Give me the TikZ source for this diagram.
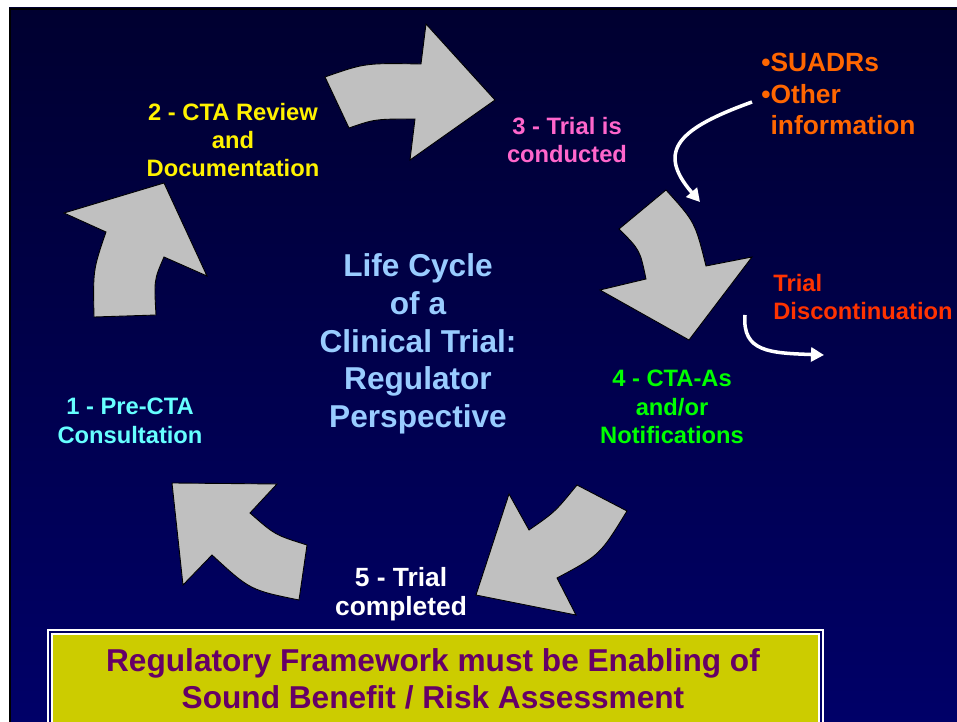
\documentclass[tikz,border=0pt]{standalone}
\usepackage{fontspec}
\setmainfont{Liberation Sans}
\usetikzlibrary{arrows.meta, positioning}
\definecolor{bgtop}{RGB}{0,0,48}
\definecolor{bgbot}{RGB}{0,0,104}
\definecolor{blockgray}{RGB}{192,192,192}
\definecolor{stepcyan}{RGB}{102,255,255}
\definecolor{steppink}{RGB}{255,102,204}
\definecolor{stepgreen}{RGB}{0,255,0}
\definecolor{titleblue}{RGB}{153,204,255}
\definecolor{infoorange}{RGB}{255,102,0}
\definecolor{stopred}{RGB}{255,51,0}
\definecolor{boxyellow}{RGB}{204,204,0}
\definecolor{boxpurple}{RGB}{102,0,102}

\begin{document}
\begin{tikzpicture}[
  x=0.02cm, y=-0.02cm,
  every node/.style={align=center, inner sep=0pt},
  steptext/.style={font=\fontsize{13.5}{16.2}\selectfont\bfseries},
  bigtext/.style={font=\fontsize{18}{21.5}\selectfont\bfseries},
  blockarrow/.style={fill=blockgray, draw=black, line width=0.5pt, line join=miter},
  feed/.style={white, line width=2pt, -{Triangle[length=2.6mm, width=2.8mm]}},
]
% page and background
\useasboundingbox (0,0) rectangle (957,722);
\fill[white] (0,0) rectangle (957,722);
\shade[top color=bgtop, bottom color=bgbot] (9,8) rectangle (957,722);
\draw[black, line width=1pt] (10,723) -- (10,9) -- (958,9);

% block arrows of the cycle
\draw[blockarrow] (325,77) .. controls (365,63) .. (421,64) -- (426,24) -- (495,100)
  -- (410,160) -- (415,119) .. controls (375,119) .. (349,128) -- cycle;
\draw[blockarrow] (666,190) .. controls (695,222) .. (706,266) -- (752,257) -- (689,340)
  -- (600,290) -- (646,279) .. controls (640,250) .. (619,229) -- cycle;
\draw[blockarrow] (577,485) -- (627,511) .. controls (600,555) .. (557,578) -- (576,615)
  -- (476,595) -- (509,494) -- (529,530) .. controls (555,512) .. (577,485) -- cycle;
\draw[blockarrow] (172,483) -- (277,484) -- (250,513) .. controls (275,535) .. (307,545)
  -- (299,600) .. controls (250,590) .. (212,555) -- (183,585) -- cycle;
\draw[blockarrow] (94,317) -- (156,315) .. controls (154,280) .. (164,257) -- (207,276)
  -- (164,183) -- (64,213) -- (106,232) .. controls (93,270) .. (94,317) -- cycle;

% steps
\node[steptext, text=stepcyan] (pre) at (130,421) {1 - Pre-CTA\\Consultation};
\node[steptext, text=yellow] (review) at (233,140) {2 - CTA Review\\and\\Documentation};
\node[steptext, text=steppink] (conduct) at (567,140) {3 - Trial is\\conducted};
\node[steptext, text=stepgreen] (amend) at (672,407) {4 - CTA-As\\and/or\\Notifications};
\node[steptext, font=\fontsize{15}{16.4}\selectfont\bfseries, text=white] (done) at (401,594) {5 - Trial\\completed};
\node[bigtext, text=titleblue] (title) at (418,344) {Life Cycle\\of a\\Clinical Trial:\\Regulator\\Perspective};

% side inputs
\node[font=\fontsize{15}{18}\selectfont\bfseries, text=infoorange, align=left, anchor=west] (info) at (761,94)
  {\textbullet SUADRs\\\textbullet Other\\\phantom{\textbullet}information};
\node[steptext, text=stopred, align=left, anchor=west] (stop) at (773,297) {Trial\\Discontinuation};
\coordinate (infotip) at (700,202);
\coordinate (stoptip) at (824,355);
\draw[feed] ([shift={(-9,8)}]info.west) .. controls (680,128) and (655,150) .. (infotip);
\draw[feed] ([shift={(-28,18)}]stop.west) .. controls (742,352) and (770,353) .. (stoptip);

% bottom statement
\draw[white, line width=0.9pt] (48,630) rectangle (823,760);
\draw[white, fill=boxyellow, line width=0.9pt] (52,634) rectangle (819,760);
\node[bigtext, font=\fontsize{18}{21}\selectfont\bfseries, text=boxpurple] (frame) at (433,679)
  {Regulatory Framework must be Enabling of\\Sound Benefit / Risk Assessment};
\end{tikzpicture}
\end{document}
